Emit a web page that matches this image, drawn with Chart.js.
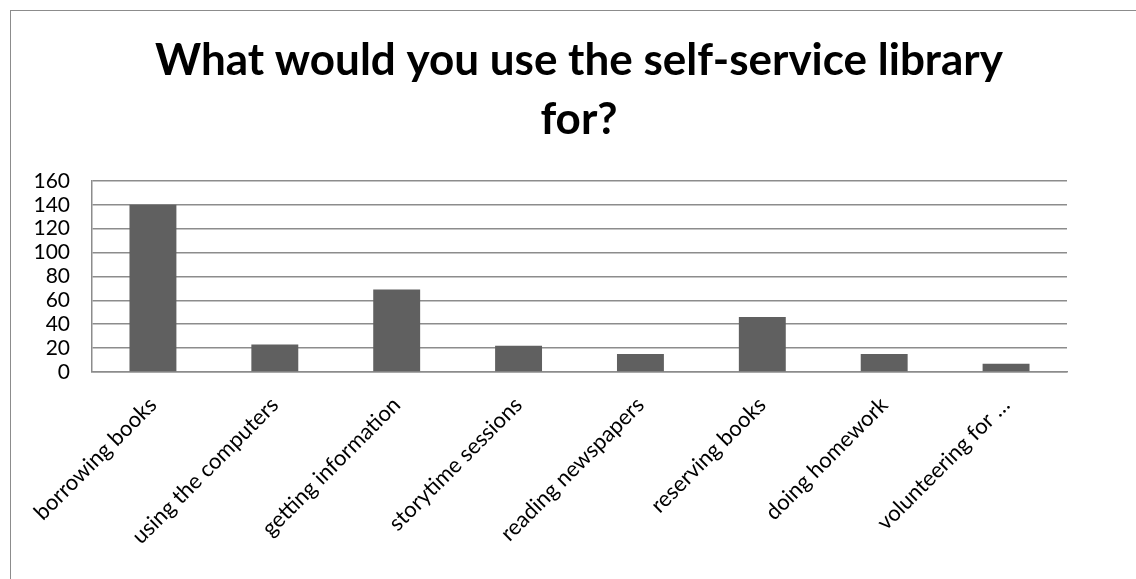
<!DOCTYPE html>
<html>
<head>
<meta charset="utf-8">
<script src="https://cdn.jsdelivr.net/npm/chart.js@4/dist/chart.umd.min.js"></script>
<style>
  body { margin: 0; background: #fff; }
  #frame {
    position: absolute; left: 10px; top: 10px; right: 0; bottom: 0;
    border-left: 1.5px solid #8c8c8c; border-top: 1.5px solid #8c8c8c;
  }
  #myChart { position: absolute; left: 0; top: 0; }
</style>
</head>
<body>
<div id="frame"></div>
<canvas id="myChart" width="1136" height="579"></canvas>
<script>
var titleLines = ["What would you use the self-service library", "for?"];
var categories = ["borrowing books", "using the computers", "getting information", "storytime sessions",
  "reading newspapers", "reserving books", "doing homework", "volunteering for \u2026"];
var counts = [140, 23, 69, 22, 15, 46, 15, 7];
var yTicks = [0, 20, 40, 60, 80, 100, 120, 140, 160];

var gridGray = "#8c8c8c";
var fontName = "Lato, 'Open Sans', sans-serif";

new Chart("myChart", {
  type: "bar",
  data: {
    labels: categories,
    datasets: [{
      data: counts,
      backgroundColor: "#606060",
      categoryPercentage: 1,
      barPercentage: 0.385
    }]
  },
  options: {
    responsive: false,
    animation: false,
    layout: { padding: { left: 22, right: 0, top: 0, bottom: 0 } },
    plugins: {
      legend: { display: false },
      tooltip: { enabled: false },
      title: {
        display: true,
        text: titleLines,
        color: "#000",
        font: { family: fontName, size: 44, weight: "bold", lineHeight: 1.34 },
        padding: { top: 31, bottom: 32 }
      }
    },
    scales: {
      x: {
        grid: { display: false },
        border: { display: true, color: gridGray, width: 1.5 },
        ticks: {
          color: "#000",
          font: { family: fontName, size: 22 },
          minRotation: 45,
          maxRotation: 45,
          autoSkip: false,
          padding: 12
        },
        afterFit: function(scale) { scale.height = 207; }
      },
      y: {
        min: yTicks[0],
        max: yTicks[yTicks.length - 1],
        grid: { color: gridGray, lineWidth: 1.5, drawTicks: false },
        border: { display: true, color: gridGray, width: 1.5 },
        ticks: {
          stepSize: yTicks[1] - yTicks[0],
          autoSkip: false,
          color: "#000",
          font: { family: fontName, size: 21 },
          padding: 22
        },
        afterFit: function(scale) { scale.width = 70; }
      },
      // empty right-hand axis, only to keep the space right of the plot
      y2: {
        position: "right",
        grid: { display: false },
        border: { display: false },
        ticks: { display: false },
        afterFit: function(scale) { scale.width = 69; }
      }
    }
  }
});
</script>
</body>
</html>
